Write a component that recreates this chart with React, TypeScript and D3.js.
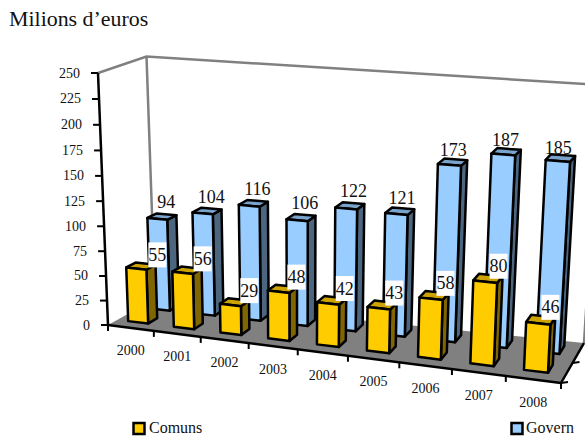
import React from 'react';
import * as d3 from 'd3';

const years = ['2000', '2001', '2002', '2003', '2004', '2005', '2006', '2007', '2008'];
const comuns = [55, 56, 29, 48, 42, 43, 58, 80, 46];
const govern = [94, 104, 116, 106, 122, 121, 173, 187, 185];
const yTicks = [0, 25, 50, 75, 100, 125, 150, 175, 200, 225, 250];

const W = 585;
const H = 437;
const SERIF = '"Liberation Serif", serif';

// box corners on screen: [front/back][left/right][floor/top]
const FL0 = [108, 325];
const FR0 = [561, 383];
const BL0 = [155, 299];
const BR0 = [584, 343];
const FL1 = [98, 73];
const FR1 = [575, 111];
const BL1 = [146.5, 56.5];
const BR1 = [600, 85];

const lerp = (a: number, b: number, t: number) => d3.interpolateNumber(a, b)(t);
const persp = (t: number, r: number) => t / (r + (1 - r) * t);

const catScale = d3.scaleLinear().domain([0, years.length]).range([0, 1]);
const valScale = d3.scaleLinear().domain([0, 250]).range([0, 1]);

// i = category position, d = depth 0..1, v = value
function project(i: number, d: number, v: number): [number, number] {
  const u = persp(catScale(i), 1.11);
  const h = persp(valScale(v), 1.035);
  const out: number[] = [0, 1].map((k) => {
    const f0 = lerp(FL0[k], FR0[k], u);
    const b0 = lerp(BL0[k], BR0[k], u);
    const f1 = lerp(FL1[k], FR1[k], u);
    const b1 = lerp(BL1[k], BR1[k], u);
    return lerp(lerp(f0, b0, d), lerp(f1, b1, d), h);
  });
  return [out[0], out[1]];
}

const poly = d3.line().curve(d3.curveLinearClosed);
const seg = d3.line();

const barStart = 0.24;
const barEnd = 0.68;
const front = { d0: 0.2, d1: 0.4, face: '#FFCC00', top: '#CCA300', side: '#806600' };
const back = { d0: 0.68, d1: 0.88, face: '#99CCFF', top: '#7AA3CC', side: '#4D6680' };

function Bar({ i, v, s }: { i: number; v: number; s: typeof front }) {
  const a = i + barStart;
  const b = i + barEnd;
  const faceP = [project(a, s.d0, 0), project(b, s.d0, 0), project(b, s.d0, v), project(a, s.d0, v)];
  const sideP = [project(b, s.d0, 0), project(b, s.d1, 0), project(b, s.d1, v), project(b, s.d0, v)];
  const topP = [project(a, s.d0, v), project(b, s.d0, v), project(b, s.d1, v), project(a, s.d1, v)];
  const st = { stroke: '#000', strokeWidth: 2.5, strokeLinejoin: 'round' as const };
  return (
    <g>
      <path d={poly(sideP) as string} fill={s.side} {...st} />
      <path d={poly(topP) as string} fill={s.top} {...st} />
      <path d={poly(faceP) as string} fill={s.face} {...st} />
    </g>
  );
}

function Label({ i, v, s, dx, dy, boxed }: { i: number; v: number; s: typeof front; dx: number; dy: number; boxed: boolean }) {
  const [x, y] = project(i + 0.5, s.d1, v);
  const bw = String(v).length > 2 ? 29 : 18;
  return (
    <g>
      {boxed && <rect x={x + dx - bw / 2} y={y + dy - 12.5} width={bw} height={25} fill="#fff" />}
      <text x={x + dx} y={y + dy + 6} textAnchor="middle" fontSize={18} fontFamily={SERIF} fill="#111">
        {v}
      </text>
    </g>
  );
}

export default function App() {
  const nYears = years.length;
  const floor = [project(0, 0, 0), project(nYears, 0, 0), project(nYears, 1, 0), project(0, 1, 0)];
  return (
    <svg width={W} height={H} style={{ position: 'absolute', left: 0, top: 0, background: '#fff' }}>
      <text x={9} y={26} fontFamily={SERIF} fontSize={21.9} fill="#111">
        Milions d’euros
      </text>

      {/* walls */}
      <path
        d={seg([project(0, 0, 250), project(0, 1, 250), project(nYears, 1, 250)]) as string}
        fill="none"
        stroke="#808080"
        strokeWidth={2.5}
      />
      <path d={seg([project(0, 1, 250), project(0, 1, 0)]) as string} stroke="#808080" strokeWidth={2.5} />
      <path d={seg([project(nYears, 1, 250), project(nYears, 1, 0)]) as string} stroke="#808080" strokeWidth={2.5} />
      <path d={poly(floor) as string} fill="#808080" />

      {govern.map((v, i) => (
        <Bar key={i} i={i} v={v} s={back} />
      ))}
      {comuns.map((v, i) => (
        <Bar key={i} i={i} v={v} s={front} />
      ))}

      {/* value axis */}
      <path d={seg([project(0, 0, 0), project(0, 0, 250)]) as string} stroke="#000" strokeWidth={2.5} />
      {yTicks.map((t) => {
        const [x, y] = project(0, 0, t);
        return (
          <g key={t}>
            <line x1={x - 7} x2={x} y1={y} y2={y} stroke="#000" strokeWidth={2} />
            <text x={x - 18} y={y + 4.5} textAnchor="end" fontSize={14} fontFamily={SERIF} fill="#111">
              {t}
            </text>
          </g>
        );
      })}

      {/* category axis */}
      <path d={seg([project(0, 0, 0), project(nYears, 0, 0)]) as string} stroke="#000" strokeWidth={2.5} />
      <path d={seg([project(nYears, 0, 0), project(nYears, 1, 0)]) as string} stroke="#000" strokeWidth={2.5} />
      {d3.range(nYears + 1).map((i) => {
        const [x, y] = project(i, 0, 0);
        return <line key={i} x1={x} x2={x} y1={y} y2={y + 6} stroke="#000" strokeWidth={2} />;
      })}
      {[0, 0.5].map((d) => {
        const [x, y] = project(nYears, d, 0);
        return <line key={d} x1={x} x2={x + 7} y1={y} y2={y - 1} stroke="#000" strokeWidth={2} />;
      })}
      {years.map((y, i) => {
        const [px, py] = project(i + 0.5, 0, 0);
        return (
          <text key={y} x={px} y={py + 27.5} textAnchor="middle" fontSize={14} fontFamily={SERIF} fill="#111">
            {y}
          </text>
        );
      })}

      {/* labels: nudged by hand, the original ones drift towards the right */}
      {govern.map((v, i) => {
        const k = Math.max(0, (i - 4) / 4);
        return <Label key={i} i={i} v={v} s={back} dx={-2 - 5 * k} dy={-12 + 4.5 * k} boxed={false} />;
      })}
      {comuns.map((v, i) => (
        <Label key={i} i={i} v={v} s={front} dx={10 - (5 * i) / 8} dy={-9} boxed={true} />
      ))}

      {/* legend */}
      <rect x={133.5} y={423} width={11} height={11} fill="#FFCC00" stroke="#000" strokeWidth={2.5} />
      <text x={149} y={433} fontSize={16} fontFamily={SERIF} fill="#111">
        Comuns
      </text>
      <rect x={511.5} y={423} width={11} height={11} fill="#99CCFF" stroke="#000" strokeWidth={2.5} />
      <text x={526} y={433} fontSize={16} fontFamily={SERIF} fill="#111">
        Govern
      </text>
    </svg>
  );
}
